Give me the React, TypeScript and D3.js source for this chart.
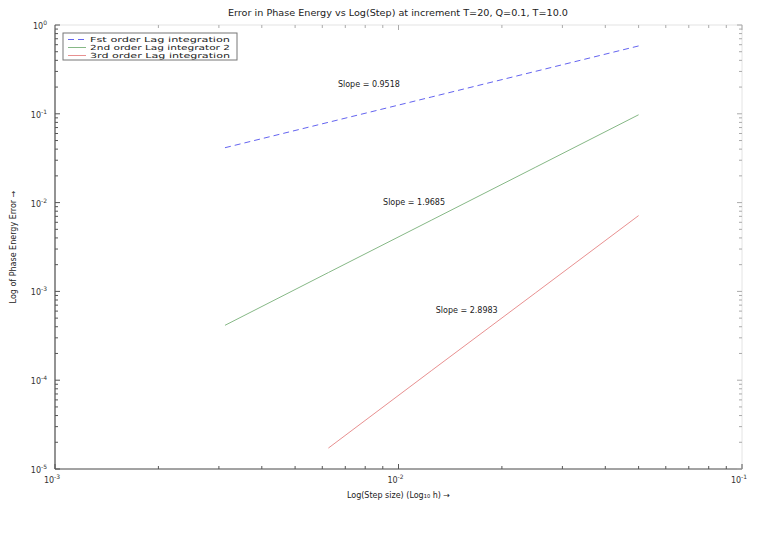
import React from "react";
import * as d3 from "d3";

// Step sizes h used in the convergence study
const stepSizes = [0.003125, 0.00625, 0.0125, 0.025, 0.05];
const stepSizesThird = [0.00625, 0.0125, 0.025, 0.05];

// Phase energy error for each integrator
const errFirst = [0.0415, 0.0802, 0.155, 0.3, 0.581];
const errSecond = [0.000415, 0.00163, 0.00637, 0.0249, 0.0975];
const errThird = [0.0000172, 0.000129, 0.000957, 0.00714];

const seriesNames = [
  "Fst order Lag integration",
  "2nd order Lag integrator 2",
  "3rd order Lag integration",
];
const seriesColors = ["#6464f0", "#86b886", "#e89090"];

const xTickExps = [-3, -2, -1];
const yTickExps = [0, -1, -2, -3, -4, -5];

const titleText = "Error in Phase Energy vs Log(Step) at increment T=20, Q=0.1, T=10.0";
const xLabel = "Log(Step size) (Log\u2081\u2080 h) \u2192";
const yLabel = "Log of Phase Energy Error \u2192";

const W = 764;
const H = 546;
const M = { left: 55, right: 742, top: 25, bottom: 469 };

function fitSlope(xs: number[], ys: number[]) {
  const lx = xs.map(Math.log10);
  const ly = ys.map(Math.log10);
  const mx = d3.mean(lx)!;
  const my = d3.mean(ly)!;
  let num = 0;
  let den = 0;
  lx.forEach((v, i) => {
    num += (v - mx) * (ly[i] - my);
    den += (v - mx) * (v - mx);
  });
  return num / den;
}

const Pow10 = ({ x, y, e, anchor }: { x: number; y: number; e: number; anchor: string }) => (
  <text x={x} y={y} textAnchor={anchor} fontSize={8} fill="#333">
    10
    <tspan dy={-4} fontSize={6}>
      {e}
    </tspan>
  </text>
);

export default function App() {
  const x = d3.scaleLog().domain([1e-3, 1e-1]).range([M.left, M.right]);
  const y = d3.scaleLog().domain([1e-5, 1]).range([M.bottom, M.top]);

  const xMinor = x.ticks();
  const yMinor = y.ticks();

  const series = [
    { xs: stepSizes, ys: errFirst, dash: "6,4" },
    { xs: stepSizes, ys: errSecond, dash: undefined },
    { xs: stepSizesThird, ys: errThird, dash: undefined },
  ];

  const line = d3
    .line<[number, number]>()
    .x((d) => x(d[0]))
    .y((d) => y(d[1]));

  // slope annotation anchors in data coordinates
  const slopeAnchors: [number, number][] = [
    [0.0082, 0.2],
    [0.0111, 0.0093],
    [0.0158, 0.00057],
  ];

  const isMajor = (v: number) => Math.abs(Math.log10(v) - Math.round(Math.log10(v))) < 1e-9;

  return (
    <svg width={W} height={H} style={{ position: "absolute", left: 0, top: 0, background: "#fff" }} fontFamily="DejaVu Sans, sans-serif">
      <rect x={0} y={0} width={W} height={H} fill="#fff" />
      {/* frame */}
      <rect x={M.left} y={M.top} width={M.right - M.left} height={M.bottom - M.top} fill="none" stroke="#e4e4e4" strokeWidth={1} />
      <line x1={M.left} x2={M.left} y1={M.top} y2={M.bottom} stroke="#555" strokeWidth={1.2} />
      <line x1={M.left} x2={M.right} y1={M.bottom} y2={M.bottom} stroke="#555" strokeWidth={1.2} />

      {/* x ticks, bottom and top */}
      {xMinor.map((v, i) => {
        const len = isMajor(v) ? 5 : 3;
        const px = x(v);
        return (
          <g key={"xt" + i}>
            <line x1={px} x2={px} y1={M.bottom} y2={M.bottom - len} stroke="#555" />
            <line x1={px} x2={px} y1={M.top} y2={M.top + len} stroke="#aaa" />
          </g>
        );
      })}
      {/* y ticks, left and right */}
      {yMinor.map((v, i) => {
        const len = isMajor(v) ? 5 : 3;
        const py = y(v);
        return (
          <g key={"yt" + i}>
            <line x1={M.left} x2={M.left + len} y1={py} y2={py} stroke="#555" />
            <line x1={M.right} x2={M.right - len} y1={py} y2={py} stroke="#aaa" />
          </g>
        );
      })}

      {xTickExps.map((e) => (
        <Pow10 key={"xl" + e} x={x(Math.pow(10, e)) - 3} y={M.bottom + 14} e={e} anchor="middle" />
      ))}
      {yTickExps.map((e) => (
        <Pow10 key={"yl" + e} x={M.left - 8} y={y(Math.pow(10, e)) + 4} e={e} anchor="end" />
      ))}

      {/* series */}
      {series.map((s, i) => (
        <path
          key={"s" + i}
          d={line(s.xs.map((v, j) => [v, s.ys[j]] as [number, number]))!}
          fill="none"
          stroke={seriesColors[i]}
          strokeWidth={1}
          strokeDasharray={s.dash}
        />
      ))}

      {/* slope annotations */}
      {series.map((s, i) => (
        <text
          key={"sl" + i}
          x={x(slopeAnchors[i][0])}
          y={y(slopeAnchors[i][1])}
          textAnchor="middle"
          fontSize={8}
          fill="#222"
        >
          {`Slope = ${fitSlope(s.xs, s.ys).toFixed(4)}`}
        </text>
      ))}

      {/* legend */}
      <g>
        <rect x={63} y={33} width={174} height={27} fill="#fff" stroke="#777" strokeWidth={1} />
        {seriesNames.map((n, i) => (
          <g key={"lg" + i}>
            <line
              x1={68}
              x2={86}
              y1={39.5 + i * 8}
              y2={39.5 + i * 8}
              stroke={seriesColors[i]}
              strokeDasharray={i === 0 ? "6,4" : undefined}
            />
            <text x={90} y={42 + i * 8} fontSize={7} fill="#222" textLength={140} lengthAdjust="spacingAndGlyphs">
              {n}
            </text>
          </g>
        ))}
      </g>

      <text x={398} y={16} textAnchor="middle" fontSize={8} fill="#222" textLength={340} lengthAdjust="spacingAndGlyphs">
        {titleText}
      </text>
      <text x={(M.left + M.right) / 2} y={498} textAnchor="middle" fontSize={8} fill="#222">
        {xLabel}
      </text>
      <text
        transform={`translate(16, ${(M.top + M.bottom) / 2}) rotate(-90)`}
        textAnchor="middle"
        fontSize={8}
        fill="#222"
      >
        {yLabel}
      </text>
    </svg>
  );
}
